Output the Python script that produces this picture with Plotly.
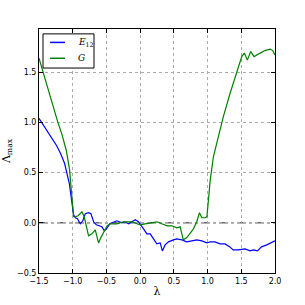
import plotly.graph_objects as go

# Data
lam_E12 = [-1.5, -1.39, -1.29, -1.24, -1.18, -1.12, -1.05, -1.007, -0.987, -0.96, -0.93,
           -0.888, -0.85, -0.814, -0.765, -0.73, -0.69, -0.65, -0.617, -0.567, -0.53,
           -0.50, -0.45, -0.395, -0.345, -0.27, -0.23, -0.17, -0.12, -0.073, -0.025,
           0.0, 0.05, 0.10, 0.15, 0.198, 0.248, 0.297, 0.33, 0.37, 0.42, 0.494, 0.544,
           0.62, 0.69, 0.767, 0.84, 0.915, 0.99, 1.04, 1.11, 1.186, 1.26, 1.33, 1.38,
           1.457, 1.556, 1.63, 1.68, 1.74, 1.80, 1.878, 1.95, 2.0]
E12 = [1.04, 0.93, 0.83, 0.77, 0.69, 0.59, 0.39, 0.21, 0.08, 0.05, 0.04,
       -0.01, 0.02, 0.09, 0.10, 0.09, 0.01, -0.02, -0.03, -0.04, -0.08,
       -0.06, -0.01, 0.01, 0.02, 0.0, 0.01, -0.01, 0.01, 0.03, 0.01,
       -0.01, -0.06, -0.11, -0.11, -0.16, -0.21, -0.20, -0.28, -0.22, -0.19, -0.17, -0.16,
       -0.17, -0.19, -0.18, -0.17, -0.18, -0.20, -0.19, -0.19, -0.21, -0.21, -0.24, -0.27,
       -0.27, -0.26, -0.28, -0.27, -0.28, -0.24, -0.22, -0.20, -0.18]

lam_G = [-1.5, -1.44, -1.33, -1.22, -1.16, -1.095, -1.047, -1.02, -0.987, -0.96, -0.92,
         -0.863, -0.83, -0.765, -0.715, -0.666, -0.617, -0.577, -0.543, -0.49, -0.444,
         -0.345, -0.247, -0.12, -0.048, 0.0, 0.075, 0.15, 0.25, 0.32, 0.40, 0.47, 0.544,
         0.593, 0.64, 0.69, 0.74, 0.79, 0.84, 0.88, 0.915, 0.96, 0.99, 1.01, 1.04, 1.087,
         1.16, 1.235, 1.334, 1.433, 1.507, 1.546, 1.59, 1.64, 1.69, 1.78, 1.85, 1.93,
         1.967, 2.0]
G = [1.64, 1.5, 1.24, 1.0, 0.88, 0.72, 0.53, 0.33, 0.06, 0.06, 0.07,
     0.11, 0.06, -0.13, -0.11, -0.07, -0.20, -0.14, -0.09, -0.03, -0.01,
     -0.01, 0.01, 0.01, -0.01, -0.02, -0.01, 0.0, 0.01, -0.01, -0.03, -0.03, -0.05,
     -0.04, -0.17, -0.15, -0.11, -0.06, 0.01, 0.10, 0.05, 0.05, 0.06, 0.23, 0.43, 0.66,
     0.86, 1.06, 1.29, 1.51, 1.655, 1.69, 1.62, 1.705, 1.655, 1.69, 1.715, 1.73,
     1.715, 1.67]

x_ticks = [-1.5, -1.0, -0.5, 0.0, 0.5, 1.0, 1.5, 2.0]
y_ticks = [-0.5, 0.0, 0.5, 1.0, 1.5]

series_names = ["<i>E</i><sub>12</sub>", "<i>G</i>"]
series_colors = ["#0000ff", "#008000"]

fig = go.Figure()
fig.add_trace(go.Scatter(x=lam_E12, y=E12, mode="lines", name=series_names[0],
                         line=dict(color=series_colors[0], width=1.2), showlegend=False))
fig.add_trace(go.Scatter(x=lam_G, y=G, mode="lines", name=series_names[1],
                         line=dict(color=series_colors[1], width=1.2), showlegend=False))

fig.add_shape(type="line", xref="paper", yref="y", x0=0, x1=1, y0=0, y1=0,
              line=dict(color="#666666", width=1.5, dash="dashdot"), layer="below")

# Legend box drawn by hand (matplotlib-like compact legend)
fig.add_shape(type="rect", xref="paper", yref="paper", x0=0.017, x1=0.233, y0=0.84, y1=0.98,
              line=dict(color="black", width=1), fillcolor="white", layer="above")
leg_rows = [0.945, 0.88]
for name, color, yy in zip(series_names, series_colors, leg_rows):
    fig.add_shape(type="line", xref="paper", yref="paper", x0=0.047, x1=0.11, y0=yy, y1=yy,
                  line=dict(color=color, width=1.5), layer="above")
    fig.add_annotation(xref="paper", yref="paper", x=0.155, y=yy, text=name, showarrow=False,
                       xanchor="left", yanchor="middle",
                       font=dict(family="DejaVu Serif", size=9, color="black"))

axis_common = dict(showline=True, mirror="allticks", linecolor="black", linewidth=1,
                   ticks="inside", ticklen=4, tickcolor="black", tickwidth=1,
                   showgrid=True, gridcolor="#aaaaaa", griddash="dot", gridwidth=1,
                   zeroline=False, tickformat=".1f", automargin=False,
                   tickfont=dict(family="DejaVu Sans", size=8, color="black"))

fig.update_xaxes(range=[-1.5, 2.0], tickvals=x_ticks,
                 title=dict(text="λ", font=dict(family="DejaVu Serif", size=11, color="black"),
                            standoff=2),
                 **axis_common)
fig.update_yaxes(range=[-0.5, 1.93], tickvals=y_ticks,
                 title=dict(text="Λ<sub>max</sub>", font=dict(family="DejaVu Serif", size=11, color="black"),
                            standoff=4),
                 **axis_common)

fig.update_layout(
    width=305, height=305,
    margin=dict(l=39, r=30, t=29, b=32),
    paper_bgcolor="white", plot_bgcolor="white",
    showlegend=False,
)

fig.write_html("out.html", config={"displayModeBar": False},
               post_script="document.body.style.margin='0px';document.body.style.padding='0px';")
